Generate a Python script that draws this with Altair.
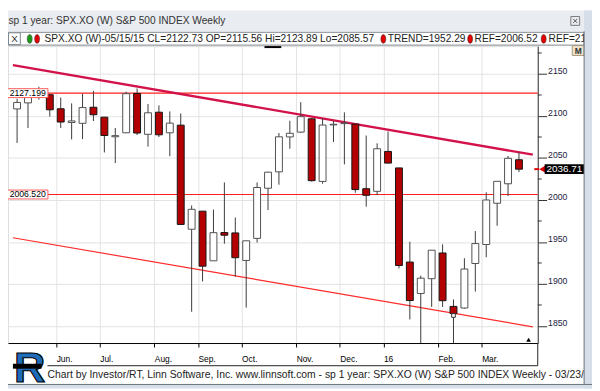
import altair as alt
import pandas as pd

# ---------------- data ----------------
week_end = ["2015-05-08","2015-05-15","2015-05-22","2015-05-29","2015-06-05","2015-06-12","2015-06-19",
            "2015-06-26","2015-07-03","2015-07-10","2015-07-17","2015-07-24","2015-07-31","2015-08-07",
            "2015-08-14","2015-08-21","2015-08-28","2015-09-04","2015-09-11","2015-09-18","2015-09-25",
            "2015-10-02","2015-10-09","2015-10-16","2015-10-23","2015-10-30","2015-11-06","2015-11-13",
            "2015-11-20","2015-11-27","2015-12-04","2015-12-11","2015-12-18","2015-12-24","2015-12-31",
            "2016-01-08","2016-01-15","2016-01-22","2016-01-29","2016-02-05","2016-02-12","2016-02-19",
            "2016-02-26","2016-03-04","2016-03-11","2016-03-18","2016-03-23"]
opens = [2108.4,2115.6,2122.7,2125.3,2108.6,2092.3,2091.3,2110.4,2098.6,2075.3,
         2080.0,2126.8,2078.2,2104.5,2080.0,2089.1,1965.2,1986.7,1927.6,1961.2,
         1960.8,1928.0,1954.3,2014.0,2033.5,2075.1,2080.8,2096.6,2022.1,2089.4,
         2090.9,2090.4,2013.4,2010.3,2057.8,2038.2,1926.1,1888.7,1906.3,1936.9,
         1873.3,1871.4,1924.4,1947.0,1996.1,2019.3,2047.9]
highs = [2120.5,2123.9,2134.7,2126.2,2121.9,2115.0,2126.6,2129.9,2098.6,2085.7,
         2128.9,2132.8,2114.2,2112.7,2105.4,2103.0,1993.5,1986.7,1988.6,2020.9,
         1979.2,1951.4,2020.9,2033.5,2079.7,2094.3,2116.5,2097.0,2097.0,2094.1,
         2104.3,2090.4,2076.7,2067.4,2081.6,2038.2,1950.3,1909.9,1940.2,1947.2,
         1881.6,1930.7,1963.0,2009.1,2022.4,2052.4,2056.6]
lows = [2067.9,2085.6,2119.5,2099.2,2085.7,2072.1,2072.5,2094.0,2056.6,2044.0,
        2080.0,2077.3,2063.5,2075.0,2052.1,1970.9,1867.0,1903.1,1927.6,1948.0,
        1908.8,1871.9,1949.3,1988.0,2018.2,2061.0,2080.0,2022.0,2019.4,2069.0,
        2042.4,2008.6,1992.0,2005.7,2043.6,1918.5,1857.8,1812.3,1872.7,1872.6,
        1810.1,1870.5,1891.0,1931.8,1969.3,2004.7,2033.3]
closes = [2116.1,2122.7,2126.1,2107.4,2092.8,2094.1,2110.0,2101.5,2076.8,2076.6,
          2126.6,2079.7,2103.8,2077.6,2091.5,1970.9,1988.9,1921.2,1961.1,1958.1,
          1931.3,1951.4,2014.9,2033.1,2075.2,2079.4,2099.2,2023.0,2089.2,2090.1,
          2091.7,2012.4,2005.6,2061.0,2043.9,1922.0,1880.3,1906.9,1940.2,1880.1,
          1864.8,1917.8,1948.1,2000.0,2022.2,2049.6,2036.7]

ref_levels = [2127.199, 2006.520]
ref_labels = ["2127.199", "2006.520"]

trend_x = [-0.38, 47.27]
trend_upper = [2160.6, 2054.0]
trend_lower = [1955.0, 1849.0]

month_pos = [3.58, 7.58, 12.58, 16.58, 20.58, 25.58, 29.58, 33.58, 38.58, 42.58]
month_labels = ["Jun.", "Jul.", "Aug.", "Sep.", "Oct.", "Nov.", "Dec.", "16", "Feb.", "Mar."]

y_ticks = [1850, 1900, 1950, 2000, 2050, 2100, 2150]
y_minor = [1875, 1925, 1975, 2025, 2075, 2125, 2175]

last_close = [2036.71]
last_label = ["2036.71"]
signal_i = [40]
signal_v = [1862.5]

title_text = "sp 1 year: SPX.XO (W) S&P 500 INDEX Weekly"
legend_main = "SPX.XO (W)-05/15/15 CL=2122.73 OP=2115.56 Hi=2123.89 Lo=2085.57"
legend_trend = "TREND=1952.29"
legend_ref1 = "REF=2006.52"
legend_ref2 = "REF=2127.20"
footer_text = ("Chart by Investor/RT, Linn Software, Inc. www.linnsoft.com - "
               "sp 1 year: SPX.XO (W) S&P 500 INDEX Weekly - 03/23/2016")

# ---------------- frames ----------------
n = len(closes)
candles = pd.DataFrame({"i": list(range(n)), "week": week_end, "open": opens,
                        "high": highs, "low": lows, "close": closes})
candles["dir"] = ["down" if c < o else "up" for o, c in zip(opens, closes)]

trend_df = pd.DataFrame({"i": trend_x * 2, "v": trend_upper + trend_lower,
                         "line": ["upper"] * 2 + ["lower"] * 2})
ref_df = pd.DataFrame({"v": ref_levels, "t": ref_labels})
minor_df = pd.DataFrame({"v": y_minor})
last_df = pd.DataFrame({"v": last_close, "t": last_label})
sig_df = pd.DataFrame({"i": signal_i, "v": signal_v})
one = pd.DataFrame({"a": [0]})

FONT = "Liberation Sans"
X_DOMAIN = [-0.38, 47.27]
Y_DOMAIN = [1829.7, 2183.2]

xscale = alt.Scale(domain=X_DOMAIN, nice=False, zero=False)
yscale = alt.Scale(domain=Y_DOMAIN, nice=False, zero=False)

lab_arr = [""] * 50
for p, s in zip(month_pos, month_labels):
    lab_arr[int(round(p))] = s
label_expr = "[" + ",".join("'%s'" % s for s in lab_arr) + "][round(datum.value)]"

xaxis = alt.Axis(values=month_pos, labelExpr=label_expr, grid=True, gridColor="#e3e3e3",
                 tickSize=4, tickColor="#000", domainColor="#000",
                 labelAlign="left", labelBaseline="top", labelPadding=8, labelFont=FONT,
                 labelFontSize=8.5, labelColor="#000", labelFlush=False, labelOverlap=False, title=None)
yaxis = alt.Axis(orient="right", values=y_ticks, grid=True, gridColor="#e3e3e3",
                 tickSize=9, tickColor="#333", domainColor="#333", labelPadding=1,
                 labelBaseline="alphabetic", labelFont=FONT, labelFontSize=8.8,
                 labelColor="#1a1a40", format="d", title=None, labelFlush=False, labelOverlap=False)


def X(field="i"):
    return alt.X(f"{field}:Q", scale=xscale, axis=xaxis)


def Y(field):
    return alt.Y(f"{field}:Q", scale=yscale, axis=yaxis)


def txt(s, px, py, size=10.3, color="#222", align="left", **kw):
    return alt.Chart(one).mark_text(text=s, font=FONT, fontSize=size, color=color,
                                    align=align, baseline="middle", **kw).encode(
        x=alt.value(px), y=alt.value(py))


def box(x0, x1, y0, y1, fill, stroke=None):
    kw = {"fill": fill}
    if stroke:
        kw["stroke"] = stroke
        kw["strokeWidth"] = 1
    return alt.Chart(one).mark_rect(**kw).encode(
        x=alt.value(x0), x2=alt.value(x1), y=alt.value(y0), y2=alt.value(y1))


def dot(px, py, color):
    ell = "M0,-1 C0.75,-1 0.75,1 0,1 C-0.75,1 -0.75,-1 0,-1 Z"
    return alt.Chart(one).mark_point(shape=ell, size=81, filled=True, fill=color, stroke="#333",
                                     strokeWidth=0.5, opacity=1).encode(
        x=alt.value(px), y=alt.value(py))


RECT_LABEL = "M-1,-0.22 L1,-0.22 L1,0.22 L-1,0.22 Z"
RECT_PRICE = "M-1,-0.25 L1,-0.25 L1,0.25 L-1,0.25 Z"

layers = []

# header
layers.append(box(0, 592, -36, -15, "#e9ecf0"))
layers.append(txt(title_text, 0.5, -25.5, color="#333"))
layers.append(alt.Chart(one).mark_point(shape="square", size=80, filled=False, stroke="#7a7a7a",
                                        strokeWidth=1, opacity=1).encode(x=alt.value(575), y=alt.value(-25.5)))
layers.append(alt.Chart(one).mark_point(shape="M-1,-1L1,1M1,-1L-1,1", size=16, filled=False,
                                        stroke="#555", strokeWidth=1, opacity=1).encode(
    x=alt.value(575), y=alt.value(-25.5)))
layers.append(box(0, 584, -14, -1, "#ffffff", "#7d848c"))
layers.append(box(0.5, 12.5, -13.5, -1.5, "#ffffff", "#7d848c"))
layers.append(txt("X", 6.5, -7.5, size=10, color="#333", align="center"))
layers.append(dot(22, -7.3, "#1d9a1d"))
layers.append(dot(29.5, -7.3, "#e00000"))
layers.append(txt(legend_main, 37, -7.3))
layers.append(dot(380.5, -7.3, "#e00000"))
layers.append(txt(legend_trend, 385, -7.3))
layers.append(dot(468.5, -7.3, "#e00000"))
layers.append(txt(legend_ref1, 473, -7.3))
layers.append(dot(543, -7.3, "#e00000"))
layers.append(txt(legend_ref2, 548, -7.3))

# minor y ticks
layers.append(alt.Chart(minor_df).mark_rule(color="#333").encode(
    y=Y("v"), x=alt.value(537), x2=alt.value(541)))

# reference lines and trend lines
layers.append(alt.Chart(ref_df).mark_rule(color="#ff1e1e", strokeWidth=1.2).encode(y=Y("v")))
layers.append(alt.Chart(trend_df).transform_filter("datum.line == 'lower'").mark_line(
    color="#ff2a2a", strokeWidth=1.2).encode(x=X(), y=Y("v")))
layers.append(alt.Chart(trend_df).transform_filter("datum.line == 'upper'").mark_line(
    color="#d3124a", strokeWidth=2.4).encode(x=X(), y=Y("v")))

# candles
base = alt.Chart(candles)
layers.append(base.mark_rule(color="#3a3a3a", strokeWidth=1, clip=True).encode(
    x=X(), y=Y("low"), y2="high"))
layers.append(base.mark_bar(size=7, strokeWidth=1, clip=True).encode(
    x=X(), y=Y("open"), y2="close",
    fill=alt.Fill("dir:N", scale=alt.Scale(domain=["up", "down"], range=["#ffffff", "#b40000"]), legend=None),
    stroke=alt.Stroke("dir:N", scale=alt.Scale(domain=["up", "down"], range=["#505050", "#141414"]),
                      legend=None)))
layers.append(alt.Chart(sig_df).mark_point(shape="square", size=14, filled=True, fill="#ffffff",
                                           stroke="#333", strokeWidth=1, opacity=1).encode(
    x=X(), y=Y("v")))

# ref labels on the left
layers.append(alt.Chart(ref_df).mark_point(shape=RECT_LABEL, size=1681, filled=True, fill="#ffffff",
                                           stroke="#ff5a5a", strokeWidth=1, opacity=1).encode(
    x=alt.value(20), y=Y("v")))
layers.append(alt.Chart(ref_df).mark_text(font=FONT, fontSize=8.8, color="#000", align="center",
                                          baseline="middle").encode(
    x=alt.value(20), y=Y("v"), text="t:N"))

# last price marker
layers.append(alt.Chart(last_df).mark_rule(color="#e00000", strokeWidth=2).encode(
    y=Y("v"), x=alt.value(533.5), x2=alt.value(538.5)))
layers.append(alt.Chart(last_df).mark_point(shape="triangle-left", size=45, filled=True,
                                            fill="#e00000", opacity=1).encode(
    x=alt.value(541.5), y=Y("v")))
layers.append(alt.Chart(last_df).mark_point(shape=RECT_PRICE, size=1600, filled=True, fill="#000000",
                                            opacity=1).encode(x=alt.value(564), y=Y("v")))
layers.append(alt.Chart(last_df).mark_text(font=FONT, fontSize=10, color="#ffffff", align="center",
                                           baseline="middle").encode(
    x=alt.value(564), y=Y("v"), text="t:N"))

# M button and current bar marker
layers.append(box(572, 584, -0.5, 9.5, "#ece4cc", "#a89878"))
layers.append(txt("M", 578, 4.5, size=8.5, color="#333", align="center", fontWeight="bold"))
layers.append(alt.Chart(one).mark_point(shape="triangle-up", size=22, filled=True, fill="#000",
                                        opacity=1).encode(x=alt.value(527.7), y=alt.value(297.7)))
layers.append(alt.Chart(one).mark_rule(color="#000", strokeWidth=2).encode(
    x=alt.value(260), x2=alt.value(277), y=alt.value(1)))

# axis label box lines
layers.append(alt.Chart(one).mark_rule(color="#222").encode(
    x=alt.value(40), x2=alt.value(537), y=alt.value(324)))
layers.append(alt.Chart(one).mark_rule(color="#222").encode(
    x=alt.value(537), y=alt.value(301), y2=alt.value(324)))

# footer and logo
layers.append(txt(footer_text, 40, 333.7, size=10.5, color="#222"))
layers.append(alt.Chart(one).mark_text(text="R", font="Liberation Sans", fontSize=44, fontWeight="bold",
                                       color="#1e6bb8", stroke="#000", strokeWidth=1.2,
                                       align="center", baseline="alphabetic").encode(
    x=alt.value(22), y=alt.value(340)))
layers.append(box(5, 34, 322, 327, "#000"))

# window borders
layers.append(box(584, 592, -36, 347, "#d6deea"))
layers.append(box(-8, 592, 343, 347, "#d6deea"))
layers.append(alt.Chart(one).mark_rule(color="#6b7079").encode(
    x=alt.value(-8), x2=alt.value(592), y=alt.value(343)))
layers.append(alt.Chart(one).mark_rule(color="#6b7079").encode(
    x=alt.value(584), y=alt.value(-15), y2=alt.value(343)))

chart = alt.layer(*layers).properties(
    width=537, height=301,
    padding={"left": 0, "top": 36, "right": 55, "bottom": 46},
    autosize=alt.AutoSizeParams(type="none"),
).configure_view(stroke=None).configure(background="#ffffff")

chart.save("out.html", embed_options={"renderer": "svg", "actions": False})
